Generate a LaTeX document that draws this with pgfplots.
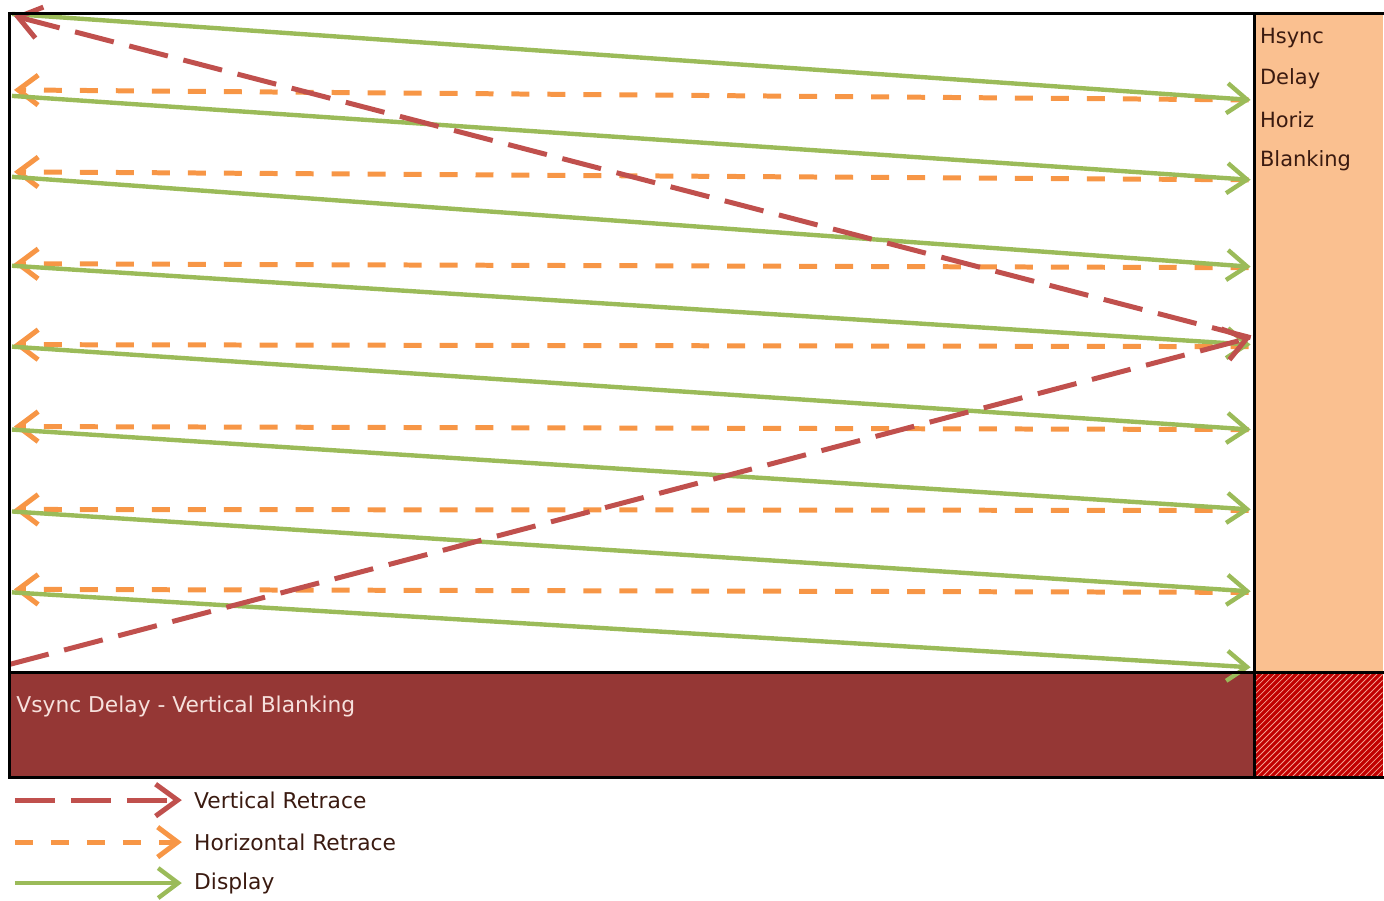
\documentclass[border=0pt]{standalone}
\usepackage{fontspec}
\setmainfont{DejaVu Sans}
\usepackage{pgfplots}
\pgfplotsset{compat=1.18}
\usetikzlibrary{arrows.meta,patterns}
\definecolor{cgreen}{HTML}{9BBB59}
\definecolor{corange}{HTML}{F79646}
\definecolor{cred}{HTML}{C0504D}
\definecolor{cdark}{HTML}{953735}
\definecolor{cpanel}{HTML}{FAC090}
\definecolor{chatch}{HTML}{C00000}
\definecolor{chatchline}{HTML}{F4A090}
\definecolor{ctext}{HTML}{3A1A10}
\definecolor{cwtext}{HTML}{F6E0DC}
\begin{document}
\begin{tikzpicture}
\begin{axis}[
  width=692pt, height=447.5pt, scale only axis,
  xmin=0, xmax=1384, ymin=0, ymax=895, y dir=reverse,
  hide axis, clip=false,
  every axis plot/.append style={line cap=butt},
]
% bounding
\addplot[draw=none] coordinates {(0,0) (1384,895)};
% fills
\addplot[fill=cpanel, draw=none] coordinates {(1256,14) (1384,14) (1384,673) (1256,673)} -- cycle;
\addplot[fill=cdark, draw=none] coordinates {(10,673) (1256,673) (1256,778) (10,778)} -- cycle;
\addplot[fill=chatch, draw=none] coordinates {(1256,673) (1384,673) (1384,778) (1256,778)} -- cycle;
\addplot[pattern=north east lines, pattern color=chatchline, draw=none] coordinates {(1256,673) (1384,673) (1384,778) (1256,778)} -- cycle;
% horizontal retrace (orange, right to left)
\pgfplotsset{oret/.style={corange, line width=2.5pt, dash pattern=on 9pt off 9pt, -{Straight Barb[length=10pt,width=15pt]}}}
\addplot[oret] coordinates {(1250,100) (14,90)};
\addplot[oret] coordinates {(1250,180) (14,172)};
\addplot[oret] coordinates {(1250,268) (14,264)};
\addplot[oret] coordinates {(1250,347) (14,345)};
\addplot[oret] coordinates {(1250,430) (14,427)};
\addplot[oret] coordinates {(1250,511) (14,510)};
\addplot[oret] coordinates {(1250,593) (14,590)};
% display (green)
\pgfplotsset{gdis/.style={cgreen, line width=2.2pt, -{Straight Barb[length=10pt,width=15pt]}}}
\addplot[gdis] coordinates {(12,14) (1252,100)};
\addplot[gdis] coordinates {(12,96) (1252,180)};
\addplot[gdis] coordinates {(12,177) (1252,267)};
\addplot[gdis] coordinates {(12,266) (1252,345)};
\addplot[gdis] coordinates {(12,347) (1252,430)};
\addplot[gdis] coordinates {(12,430) (1252,510)};
\addplot[gdis] coordinates {(12,512) (1252,592)};
\addplot[gdis] coordinates {(12,593) (1252,668)};
% vertical retrace (red)
\pgfplotsset{vret/.style={cred, line width=2.5pt, dash pattern=on 20pt off 8pt, -{Straight Barb[length=11pt,width=16pt]}}}
\addplot[vret] coordinates {(10,665) (1252,338)};
\addplot[vret] coordinates {(1252,338) (14,16)};
% borders
\pgfplotsset{bord/.style={black, line width=1.5pt, line cap=rect}}
\addplot[bord] coordinates {(10,14) (1384,14)};
\addplot[bord] coordinates {(10,14) (10,778)};
\addplot[bord] coordinates {(1256,14) (1256,778)};
\addplot[bord] coordinates {(10,673) (1384,673)};
\addplot[bord] coordinates {(10,778) (1384,778)};
% legend lines
\addplot[vret] coordinates {(15,801) (182,801)};
\addplot[oret] coordinates {(15,843) (182,843)};
\addplot[gdis] coordinates {(15,884) (182,884)};
% texts
\node[anchor=west, text=ctext, font=\fontsize{10.5}{12}\selectfont, inner sep=0pt] at (axis cs:1261,38) {Hsync};
\node[anchor=west, text=ctext, font=\fontsize{10.5}{12}\selectfont, inner sep=0pt] at (axis cs:1261,79) {Delay};
\node[anchor=west, text=ctext, font=\fontsize{10.5}{12}\selectfont, inner sep=0pt] at (axis cs:1261,120) {Horiz};
\node[anchor=west, text=ctext, font=\fontsize{10.5}{12}\selectfont, inner sep=0pt] at (axis cs:1261,161) {Blanking};
\node[anchor=west, text=cwtext, font=\fontsize{10.9}{12}\selectfont, inner sep=0pt] at (axis cs:16,707) {Vsync Delay - Vertical Blanking};
\node[anchor=west, text=ctext, font=\fontsize{10.9}{12}\selectfont, inner sep=0pt] at (axis cs:194,801) {Vertical Retrace};
\node[anchor=west, text=ctext, font=\fontsize{10.9}{12}\selectfont, inner sep=0pt] at (axis cs:194,843) {Horizontal Retrace};
\node[anchor=west, text=ctext, font=\fontsize{10.9}{12}\selectfont, inner sep=0pt] at (axis cs:194,884) {Display};
\end{axis}
\end{tikzpicture}
\end{document}
